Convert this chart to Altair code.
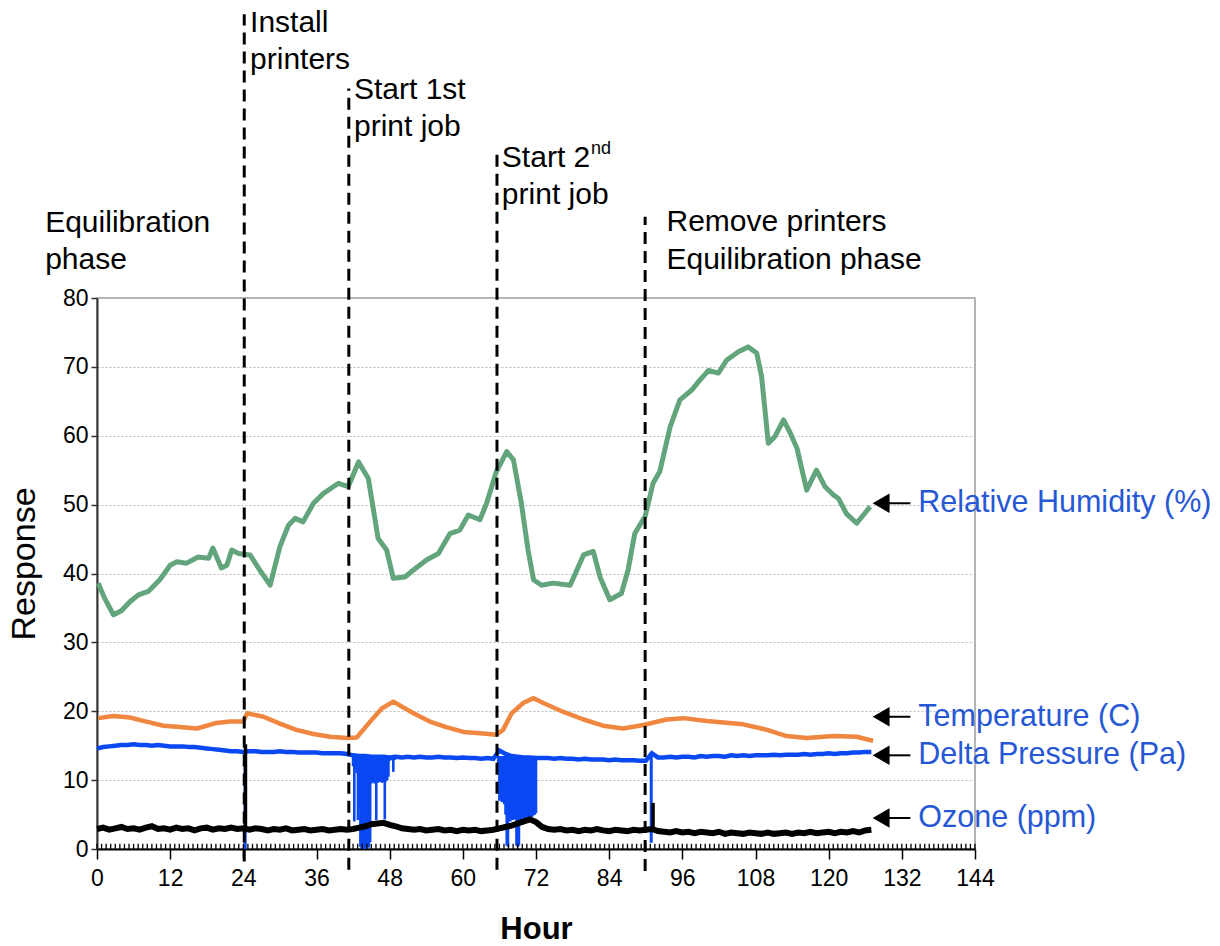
import altair as alt
import pandas as pd
import numpy as np

# ---------------- data ----------------
rh_hours = [0.2, 1.2, 2.7, 4.0, 5.4, 6.8, 8.4, 10.3, 12.0, 13.1, 14.7, 16.6, 18.3, 19.0, 20.4, 21.3, 22.1, 23.2,
            25.1, 26.7, 28.4, 30.0, 31.4, 32.5, 33.8, 35.5, 37.1, 39.6, 41.2, 42.9, 44.5, 46.1, 47.5, 48.6,
            50.5, 51.9, 54.1, 56.0, 57.9, 59.5, 60.9, 62.8, 63.9, 65.5, 67.2, 68.3, 69.6, 70.7, 71.6, 72.9,
            74.8, 77.6, 79.8, 81.4, 82.5, 84.1, 86.0, 87.1, 88.2, 89.9, 91.2, 92.3, 94.0, 95.6, 97.5, 98.9,
            100.3, 101.9, 103.3, 105.2, 106.8, 108.2, 109.0, 110.1, 111.2, 112.6, 113.7, 114.8, 116.4, 118.0,
            119.4, 120.8, 121.6, 122.9, 124.6, 126.8]
rh_vals = [38.6, 36.5, 34.0, 34.6, 35.9, 36.9, 37.4, 39.1, 41.2, 41.7, 41.5, 42.4, 42.2, 43.7, 40.8, 41.2, 43.4, 42.9,
           42.7, 40.5, 38.3, 43.9, 47.0, 48.0, 47.5, 50.2, 51.6, 53.1, 52.6, 56.2, 53.8, 45.1, 43.4, 39.3,
           39.5, 40.5, 42.0, 42.9, 45.8, 46.3, 48.5, 47.8, 50.2, 54.8, 57.7, 56.5, 50.2, 43.4, 39.1, 38.3,
           38.6, 38.3, 42.7, 43.2, 39.5, 36.2, 37.1, 40.5, 45.8, 48.3, 53.1, 54.8, 61.3, 65.2, 66.6, 68.1,
           69.5, 69.1, 71.0, 72.2, 72.9, 72.0, 68.6, 58.9, 59.9, 62.3, 60.4, 58.2, 52.1, 55.0,
           52.6, 51.4, 50.9, 48.7, 47.3, 49.7]

temp_hours = [0.2, 2.7, 5.4, 8.1, 10.9, 13.6, 16.4, 19.6, 21.8, 24.0, 24.6, 27.3, 30.0, 32.7, 35.5, 38.2, 41.0,
              42.6, 44.8, 46.7, 48.6, 51.9, 54.6, 57.3, 60.1, 62.8, 65.5, 66.6, 68.0, 69.9, 71.6, 73.2, 76.5,
              79.8, 83.0, 86.3, 89.6, 93.4, 96.2, 100.0, 106.0, 109.9, 113.1, 116.4, 120.8, 124.6, 127.3]
temp_vals = [19.0, 19.3, 19.1, 18.5, 17.9, 17.7, 17.5, 18.3, 18.5, 18.5, 19.7, 19.2, 18.2, 17.3, 16.7, 16.3, 16.1,
             16.2, 18.5, 20.4, 21.4, 19.7, 18.5, 17.7, 17.0, 16.8, 16.6, 17.3, 19.7, 21.2, 21.9, 21.2, 19.9,
             18.8, 17.9, 17.5, 18.0, 18.8, 19.0, 18.6, 18.1, 17.3, 16.4, 16.1, 16.4, 16.3, 15.7]

pressure_hours = list(range(0, 128))
pressure_vals = [14.6, 14.8, 14.9, 15.0, 15.1, 15.1, 15.2, 15.1, 15.1, 15.0, 15.1, 15.0, 14.9,
                 14.9, 14.9, 14.8, 14.8, 14.7, 14.6, 14.5, 14.4, 14.3, 14.2, 14.2, 14.1,
                 14.2, 14.2, 14.1, 14.1, 14.1, 14.2, 14.1, 14.1, 14.0, 14.0, 14.0, 14.0, 13.9, 13.9, 13.9, 13.9, 13.8,
                 13.6, 13.5, 13.5, 13.4, 13.4, 13.4, 13.3,
                 13.4, 13.3, 13.4, 13.3, 13.4, 13.3, 13.3, 13.4, 13.3, 13.3, 13.2, 13.3, 13.2, 13.2, 13.1, 13.2, 13.1,
                 14.3, 13.8, 13.5, 13.4, 13.3, 13.3, 13.2,
                 13.2, 13.2, 13.1, 13.2, 13.1, 13.1, 13.0, 13.1, 13.0, 13.0, 13.0, 12.9, 13.0, 12.9, 12.9, 12.9, 12.8, 12.8,
                 13.9, 13.3, 13.3, 13.4, 13.3, 13.4, 13.4, 13.3, 13.5, 13.4, 13.5, 13.5, 13.4, 13.6, 13.5, 13.6,
                 13.5, 13.6, 13.6, 13.6, 13.7, 13.6, 13.7, 13.7, 13.7, 13.8, 13.7, 13.8, 13.8, 13.9, 13.8, 13.9,
                 13.9, 14.0, 14.0, 14.1, 14.1]

# pressure drops while the printers run (hour, lowest reading); top of each drop
dip1_hours = [42.0, 42.2, 42.4, 42.6, 42.8, 43.0, 43.2, 43.4, 43.6, 43.8, 44.0, 44.2, 44.4, 44.6, 44.8, 45.0,
              45.2, 45.4, 45.6, 45.8, 46.0, 46.2, 46.4, 46.6, 46.8, 47.0, 47.2, 47.4, 47.6, 47.8, 48.0, 48.2,
              48.4, 48.6, 48.8]
dip1_lows = [12.0, 4.0, 11.5, 11.0, 4.2, 6.0, 0.3, 0.0, 0.3, 0.0, 0.2, 0.0, 0.4, 0.2, 1.0, 9.5,
             9.8, 9.6, 9.5, 4.2, 9.6, 9.8, 9.7, 9.9, 9.6, 9.8, 4.3, 9.8, 10.0, 10.5, 12.8, 12.9,
             13.0, 11.2, 12.9]
dip1_top = 13.5
dip2_hours = [65.8, 66.0, 66.2, 66.4, 66.6, 66.8, 67.0, 67.2, 67.4, 67.6, 67.8, 68.0, 68.2, 68.4, 68.6, 68.8,
              69.0, 69.2, 69.4, 69.6, 69.8, 70.0, 70.2, 70.4, 70.6, 70.8, 71.0, 71.2, 71.4, 71.6, 71.8, 72.0]
dip2_lows = [12.0, 7.0, 7.2, 6.8, 7.0, 6.5, 5.0, 0.5, 0.3, 4.5, 4.0, 4.4, 4.2, 4.5, 4.3, 0.5,
             0.3, 0.5, 4.0, 4.3, 4.6, 4.4, 4.5, 4.7, 4.2, 4.5, 4.8, 4.6, 4.7, 4.9, 5.0, 5.2]
dip2_top = 13.5

ozone_hours = list(range(0, 128))
ozone_vals = [2.9, 3.1, 2.8, 3.0, 3.2, 2.9, 3.0, 2.8, 3.1, 3.3, 2.9, 3.0, 2.8, 3.1, 2.9, 3.0, 2.7, 3.0, 3.1, 2.8, 3.0, 2.9, 3.1, 2.9,
              3.0, 2.8, 3.0, 2.9, 2.7, 2.9, 2.8, 3.0, 2.7, 2.8, 2.9, 2.7, 2.8, 2.9, 2.7, 2.8, 2.9, 2.8,
              2.9, 3.1, 3.3, 3.6, 3.7, 3.8, 3.5, 3.3, 3.0,
              2.9, 2.8, 2.9, 2.7, 2.8, 2.9, 2.7, 2.8, 2.6, 2.8, 2.7, 2.8, 2.6, 2.7, 2.8,
              3.0, 3.2, 3.4, 3.7, 4.0, 4.3, 3.9, 3.2,
              2.9, 2.8, 2.9, 2.7, 2.8, 2.6, 2.8, 2.7, 2.9, 2.7, 2.6, 2.8, 2.7, 2.6, 2.8, 2.7, 2.8,
              2.9, 2.6, 2.5, 2.4, 2.6, 2.4, 2.5, 2.3, 2.5, 2.4, 2.3, 2.5, 2.2, 2.4, 2.3, 2.2, 2.4, 2.3, 2.2, 2.4,
              2.2, 2.3, 2.4, 2.2, 2.4, 2.3, 2.5, 2.3, 2.4, 2.5, 2.3, 2.5, 2.4, 2.6, 2.4, 2.7, 2.8]

# single spikes when the printers were installed / removed
p_spike_hours = [24.3, 90.9]
p_spike_lows = [0.0, 0.9]
p_spike_highs = [14.1, 14.0]
o_spike_hours = [24.35, 91.2]
o_spike_lows = [2.8, 2.8]
o_spike_highs = [15.2, 6.7]

# event markers (dashed lines)
event_hours = [24.15, 41.3, 65.6, 89.9]
event_bottoms = [-1.8, -3.0, -3.0, -3.2]
event_tops = [121.2, 110.4, 101.8, 91.8]

ann_text = ["Equilibration", "phase", "Install", "printers", "Start 1st", "print job",
            "Start 2", "print job", "Remove printers", "Equilibration phase"]
ann_hour = [-8.5, -8.5, 25.1, 25.1, 42.15, 42.15, 66.4, 66.4, 93.4, 93.4]
ann_value = [90.9, 85.5, 119.9, 114.6, 110.2, 104.9, 100.3, 95.0, 91.1, 85.5]
sup_text = ["nd"]
sup_hour = [81.0]
sup_value = [101.7]

series_labels = ["Relative Humidity (%)", "Temperature (C)", "Delta Pressure (Pa)", "Ozone (ppm)"]
label_values = [50.2, 19.2, 13.6, 4.5]
arrow_head_hour = 128.6
arrow_tail_hour = 133.4
label_hour = 134.7

x_ticks = [0, 12, 24, 36, 48, 60, 72, 84, 96, 108, 120, 132, 144]
minor_ticks = list(np.arange(0, 144.01, 0.75))
y_ticks = [0, 10, 20, 30, 40, 50, 60, 70, 80]

# ---------------- styling ----------------
FONT = "Liberation Sans"
GREEN = "#62a47c"
ORANGE = "#ef8740"
BLUE = "#0a48f2"
LABEL_BLUE = "#2658d6"

W, H = 878, 551
xs = alt.Scale(domain=[0, 144], nice=False, zero=False)
ys = alt.Scale(domain=[0, 80], nice=False, zero=False)

x_axis = alt.Axis(values=x_ticks, title="Hour", labelFont=FONT, labelFontSize=23, labelColor="black",
                  labelPadding=8, tickSize=10, tickWidth=1.5, tickColor="black", domainColor="black",
                  domainWidth=2, grid=False, titleFont=FONT, titleFontSize=31, titleFontWeight="bold",
                  titleColor="black", titleY=80, titleBaseline="middle", labelFlush=False)
y_axis = alt.Axis(values=y_ticks, title="Response", labelFont=FONT, labelFontSize=23, labelColor="black",
                  labelPadding=3, tickSize=6, tickWidth=1.5, tickColor="#333", domainColor="#333",
                  domainWidth=2, grid=True, gridDash=[2, 2], gridColor="#bdbdbd", gridWidth=1,
                  titleFont=FONT, titleFontSize=34, titleFontWeight="normal", titleColor="black",
                  titleAngle=270, titleX=-73, titleY=H / 2 - 10, titleBaseline="middle", titleAlign="center",
                  labelFlush=False)


def X(f="hour"):
    return alt.X(f"{f}:Q", scale=xs, axis=x_axis)


def Y(f="value"):
    return alt.Y(f"{f}:Q", scale=ys, axis=y_axis)


rh_df = pd.DataFrame({"hour": rh_hours, "value": rh_vals})
temp_df = pd.DataFrame({"hour": temp_hours, "value": temp_vals})
p_df = pd.DataFrame({"hour": pressure_hours, "value": pressure_vals})
o_df = pd.DataFrame({"hour": ozone_hours, "value": ozone_vals})
dip_df = pd.DataFrame({
    "hour": dip1_hours + dip2_hours,
    "lo": dip1_lows + dip2_lows,
    "hi": [dip1_top] * len(dip1_hours) + [dip2_top] * len(dip2_hours),
})
pspike_df = pd.DataFrame({"hour": p_spike_hours, "lo": p_spike_lows, "hi": p_spike_highs})
ospike_df = pd.DataFrame({"hour": o_spike_hours, "lo": o_spike_lows, "hi": o_spike_highs})
event_df = pd.DataFrame({"hour": event_hours, "lo": event_bottoms, "hi": event_tops})
ann_df = pd.DataFrame({"hour": ann_hour, "value": ann_value, "text": ann_text})
sup_df = pd.DataFrame({"hour": sup_hour, "value": sup_value, "text": sup_text})
lab_df = pd.DataFrame({
    "text": series_labels, "value": label_values,
    "head": [arrow_head_hour] * 4, "tail": [arrow_tail_hour] * 4, "lx": [label_hour] * 4,
})
minor_df = pd.DataFrame({"hour": minor_ticks, "lo": [0.0] * len(minor_ticks), "hi": [0.75] * len(minor_ticks)})

rh = alt.Chart(rh_df).mark_line(color=GREEN, strokeWidth=5, strokeJoin="round").encode(x=X(), y=Y())
temp = alt.Chart(temp_df).mark_line(color=ORANGE, strokeWidth=4.5, strokeJoin="round").encode(x=X(), y=Y())
pres = alt.Chart(p_df).mark_line(color=BLUE, strokeWidth=4.5).encode(x=X(), y=Y())
dips = alt.Chart(dip_df).mark_rule(color=BLUE, strokeWidth=2.6).encode(x=X(), y=Y("lo"), y2="hi")
pspk = alt.Chart(pspike_df).mark_rule(color=BLUE, strokeWidth=3).encode(x=X(), y=Y("lo"), y2="hi")
ozone = alt.Chart(o_df).mark_line(color="black", strokeWidth=6).encode(x=X(), y=Y())
ospk = alt.Chart(ospike_df).mark_rule(color="black", strokeWidth=3.5).encode(x=X(), y=Y("lo"), y2="hi")
minor = alt.Chart(minor_df).mark_rule(color="black", strokeWidth=1.3).encode(x=X(), y=Y("lo"), y2="hi")
events = alt.Chart(event_df).mark_rule(color="black", strokeWidth=3, strokeDash=[12, 7]).encode(
    x=X(), y=Y("lo"), y2="hi")
ann = alt.Chart(ann_df).mark_text(align="left", baseline="middle", font=FONT, fontSize=30, color="black").encode(
    x=X(), y=Y(), text="text:N")
sup = alt.Chart(sup_df).mark_text(align="left", baseline="middle", font=FONT, fontSize=18, color="black").encode(
    x=X(), y=Y(), text="text:N")
shafts = alt.Chart(lab_df).mark_rule(color="black", strokeWidth=2).encode(x=X("head"), x2="tail", y=Y())
heads = alt.Chart(lab_df).mark_point(shape="triangle-left", filled=True, size=380, color="black", opacity=1).encode(
    x=X("head"), y=Y())
labels = alt.Chart(lab_df).mark_text(align="left", baseline="middle", font=FONT, fontSize=30.5,
                                     color=LABEL_BLUE).encode(x=X("lx"), y=Y(), text="text:N")

chart = alt.layer(rh, temp, pres, dips, pspk, ozone, ospk, minor, events, ann, sup, shafts, heads, labels).properties(
    width=W, height=H,
    padding={"left": 97, "top": 298, "right": 245, "bottom": 97},
    autosize=alt.AutoSizeParams(type="none"),
    background="white",
).configure_view(stroke="#9a9a9a", strokeWidth=1.5)

chart.save("out.html", embed_options={"renderer": "svg", "actions": False})
